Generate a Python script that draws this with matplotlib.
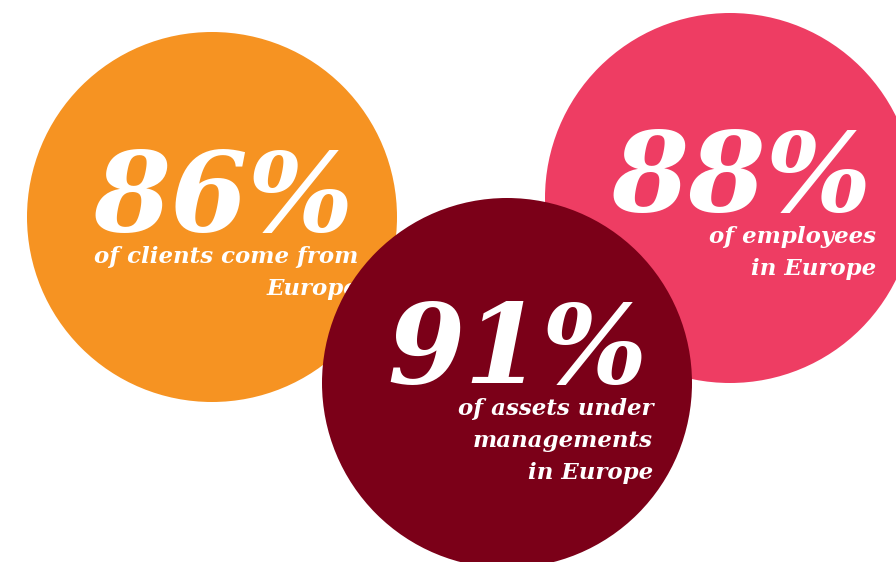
import matplotlib.pyplot as plt
from matplotlib.patches import Circle

# share of business based in Europe
percentages = [86, 88, 91]
captions = [
    "of clients come from\nEurope",
    "of employees\nin Europe",
    "of assets under\nmanagements\nin Europe",
]
colors = ["#F69322", "#EE3D63", "#7B0018"]

# bubble layout in pixels (x, y of centre), radius, text anchor
centres = [(212, 217), (730, 198), (507, 383)]
radius = 185
text_right = [358, 876, 653]
number_base = [231, 211, 383]

fig = plt.figure(figsize=(8.96, 5.62), dpi=100)
ax = fig.add_axes([0, 0, 1, 1])
ax.set_xlim(0, 896)
ax.set_ylim(562, 0)
ax.set_aspect("equal")
ax.axis("off")

font = dict(family="DejaVu Serif", weight="bold", style="italic", color="white")

for i in range(len(percentages)):
    ax.add_patch(Circle(centres[i], radius, color=colors[i], lw=0, zorder=i))
    ax.text(text_right[i] - 5, number_base[i], f"{percentages[i]}%",
            ha="right", va="baseline", fontsize=80, zorder=i, **font)
    for j, line in enumerate(captions[i].split("\n")):
        ax.text(text_right[i], number_base[i] + 32 + 32 * j, line,
                ha="right", va="baseline", fontsize=16.5, zorder=i, **font)

fig.savefig("out.png", dpi=100)
